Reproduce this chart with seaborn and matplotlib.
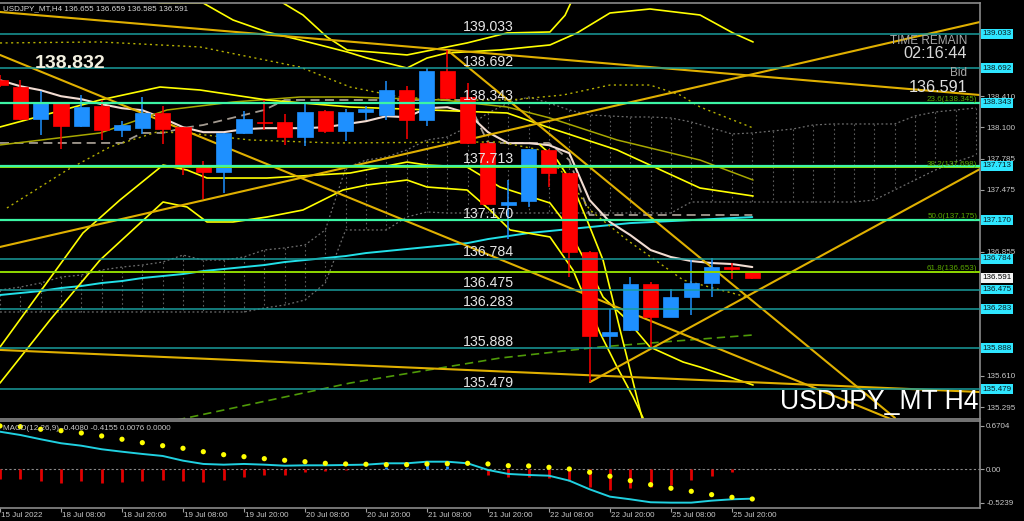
import numpy as np
import pandas as pd
import matplotlib
matplotlib.use("Agg")
import matplotlib.pyplot as plt
import seaborn as sns
from matplotlib.patches import Rectangle

sns.set_theme(style="dark")
plt.rcParams['font.family'] = ['Liberation Sans', 'DejaVu Sans']

# ---------------- data ----------------
opens  = [138.57,138.50,138.18,138.34,138.11,138.31,138.07,138.09,138.24,138.10,137.72,137.65,138.04,138.155,138.15,138.00,
          138.26,138.06,138.25,138.22,138.47,138.17,138.66,138.40,137.94,137.32,137.36,137.87,137.64,136.85,136.01,136.07,
          136.53,136.20,136.40,136.54,136.70,136.655]
highs  = [138.62,138.57,138.46,138.35,138.42,138.37,138.16,138.40,138.31,138.10,137.76,138.04,138.26,138.37,138.23,138.34,
          138.27,138.28,138.31,138.56,138.51,138.69,138.87,138.54,137.95,137.57,137.88,137.88,137.64,136.86,136.28,136.60,
          136.55,136.48,136.77,136.79,136.74,136.659]
lows   = [138.50,138.17,138.02,137.88,138.10,137.97,138.00,138.03,137.93,137.62,137.38,137.44,138.03,138.07,137.92,137.91,
          138.04,137.96,138.17,138.17,137.98,138.11,138.38,137.93,137.33,136.98,137.30,137.50,136.60,135.55,135.89,136.06,
          135.90,136.20,136.22,136.40,136.58,136.585]
closes = [138.52,138.18,138.35,138.11,138.30,138.07,138.12,138.24,138.08,137.72,137.65,138.04,138.18,138.145,138.00,138.25,
          138.06,138.25,138.28,138.47,138.17,138.66,138.39,137.94,137.33,137.35,137.88,137.64,136.85,136.01,136.05,136.53,
          136.20,136.40,136.54,136.70,136.68,136.591]

ma_white = [138.57,138.51,138.47,138.41,138.38,138.33,138.29,138.27,138.19,138.10,138.05,138.05,138.08,138.09,138.09,138.09,
            138.10,138.13,138.16,138.21,138.20,138.29,138.30,138.24,138.05,137.94,137.94,137.92,137.84,137.37,137.15,137.02,
            136.87,136.80,136.76,136.74,136.73,136.70]
ma_cyan = [136.42,136.44,136.46,136.49,136.51,136.54,136.56,136.59,136.61,136.63,136.66,136.68,136.70,136.72,136.75,136.77,
           136.79,136.81,136.84,136.86,136.88,136.90,136.92,136.94,136.98,137.01,137.04,137.06,137.08,137.10,137.12,137.14,
           137.15,137.16,137.17,137.18,137.19,137.20]
kijun = [137.942]*7 + [138.042,138.042,138.092,138.122,138.172,138.222,138.272] + [138.372]*10 + [137.942]*4 + [137.771] + [137.221]*9

span_a = [136.470,136.500,136.540,136.600,136.620,136.670,136.700,136.720,136.750,136.820,136.770,136.770,136.801,136.871,
          136.891,136.921,137.071,137.691,137.771,137.801,137.872,137.972,138.002,138.102,138.242,138.342,138.402,138.342,
          138.272,138.222,138.212,138.202,138.202,138.192,138.152,138.092,138.032,138.042,138.062,138.082,138.122,138.132,
          138.132,138.132,138.132,138.212,138.252,138.272,138.292]
span_b = [136.250]*13 + [136.290,136.320,136.370,136.540,137.071,137.071,137.071,137.201,137.251] + [137.241]*12 + \
         [137.351]*9 + [137.371,137.471,137.571,137.671,137.751,137.821]

# bands / curves read as (bar, price) points
band_up1 = [(6.39,139.42),(7.87,139.343),(9.99,139.343),(11.46,139.173),(13.13,139.053),(14.76,138.973),(17.07,138.853),
            (18.05,138.792),(20.02,138.692),(21.00,138.792),(21.99,138.843),(24.59,138.873),(27.05,138.923),(28.38,139.043),
            (30.00,139.243),(31.97,139.283),(34.43,139.223),(36.05,139.043),(37.04,138.953)]
band_up2 = [(13.92,139.343),(14.90,139.223),(16.08,139.003),(17.07,138.873),(20.02,138.823),(22.97,138.943),(24.94,139.043),
            (27.05,139.053),(27.79,139.22),(28.14,139.373)]
band_mid = [(0,138.102),(4.92,138.372),(7.87,138.502),(9.84,138.472),(13.13,138.372),(17.22,138.302),(21.15,138.272),
            (24.94,138.242),(27.05,138.092),(30.35,137.872),(34.43,137.491),(37.04,137.411)]
band_olive = [(0,137.922),(4.92,138.042),(8.21,138.272),(11.46,138.352),(14.76,138.402),(17.22,138.402),(21.79,138.372),
              (24.94,138.302),(27.05,138.192),(30.35,137.972),(34.43,137.771),(37.04,137.571)]
band_lo1 = [(0,135.899),(4.08,137.041),(5.90,137.371),(8.02,137.721),(9.20,137.671),(10.18,137.591),(13.13,137.591),
            (17.22,137.641),(20.02,137.751),(21.00,137.721),(22.97,137.701),(24.59,137.501),(27.05,137.341),(27.69,137.171),
            (28.68,136.801),(29.66,136.400),(30.84,136.170),(31.97,135.899),(33.60,135.749),(34.43,135.699),(37.04,135.519)]
band_lo2 = [(0,135.539),(2.46,136.170),(4.92,136.770),(8.02,137.351),(9.20,137.301),(10.18,137.151),(11.46,137.151),
            (13.13,137.201),(14.90,137.271),(16.87,137.471),(18.05,137.521),(20.02,137.571),(21.00,137.501),(22.97,137.471),
            (24.10,137.271),(25.09,137.071),(27.05,137.001),(28.18,136.670),(29.51,136.040),(30.35,135.699),(31.14,135.399),
            (31.63,135.189)]
band_lo3 = [(26.56,137.922),(27.40,137.771),(28.04,137.571),(28.87,137.171),(29.66,136.770),(30.50,136.070),(31.48,135.269),
            (31.58,135.189)]
dotted_up = [(0,138.943),(4.92,138.953),(9.84,138.903),(14.76,138.702),(17.22,138.502),(19.68,138.402),(22.13,138.372),
             (25.09,138.372),(27.69,138.422),(30.00,138.522),(31.97,138.522),(33.45,138.422),(34.43,138.302),(37.04,138.092)]
dotted_lo = [(0.34,137.291),(3.30,137.671),(5.41,137.902),(7.72,138.052),(9.20,138.042),(12.30,137.972),(16.38,137.942),
             (24.59,137.952),(26.56,137.872),(27.89,137.601),(29.02,137.271),(30.84,136.971),(33.60,136.570),(36.74,136.400)]
green_dash = [(8.71,135.169),(17.22,135.539),(24.59,135.789),(29.51,135.900),(37.04,136.020)]

trendlines = {
    "t1": [(0,139.253),(48.2,138.422)],
    "t2": [(0,136.901),(48.2,139.153)],
    "t3": [(0,138.823),(43.92,135.169)],
    "t4": [(0,135.870),(48.2,135.449)],
    "t5": [(29.02,135.549),(48.2,137.681)],
    "t6": [(21.99,138.873),(44.02,135.189)],
}

levels_teal = [139.033, 138.692, 136.784, 136.475, 136.283, 135.888, 135.479]
levels_green = [138.343, 137.713, 137.170]
level_labels = ["139.033","138.692","138.343","137.713","137.170","136.784","136.475","136.283","135.888","135.479"]
fib_levels = [138.345, 137.698, 137.175, 136.653]
fib_labels = ["23.6(138.345)","38.2(137.698)","50.0(137.175)","61.8(136.653)"]
price_ticks = [138.410,138.100,137.785,137.475,136.855,135.610,135.295]
bid = 136.591

macd_dots = [0.670,0.659,0.619,0.597,0.561,0.515,0.464,0.411,0.364,0.324,0.271,0.225,0.194,0.163,0.138,0.116,0.091,0.081,
             0.076,0.070,0.070,0.081,0.085,0.091,0.081,0.054,0.050,0.029,0.003,-0.048,-0.110,-0.178,-0.240,-0.296,-0.343,
             -0.395,-0.436,-0.462]
macd_line = [0.581,0.530,0.464,0.402,0.364,0.309,0.271,0.236,0.205,0.132,0.081,0.070,0.081,0.070,0.054,0.060,0.060,0.065,
             0.070,0.091,0.091,0.116,0.116,0.091,-0.012,-0.074,-0.090,-0.101,-0.178,-0.312,-0.426,-0.467,-0.513,-0.519,
             -0.519,-0.488,-0.467,-0.457]
macd_hist = [-0.150,-0.155,-0.181,-0.207,-0.191,-0.217,-0.196,-0.181,-0.165,-0.181,-0.196,-0.165,-0.129,-0.093,-0.083,-0.041,
             -0.036,-0.010,0.010,0.030,0.020,0.060,0.050,0.0,-0.093,-0.129,-0.129,-0.140,-0.181,-0.284,-0.326,-0.295,-0.269,
             -0.243,-0.171,-0.103,-0.041,0.005]

tick_bars = [0,3,6,9,12,15,18,21,24,27,30,33,36]
tick_labels = ["15 Jul 2022","18 Jul 08:00","18 Jul 20:00","19 Jul 08:00","19 Jul 20:00","20 Jul 08:00","20 Jul 20:00",
               "21 Jul 08:00","21 Jul 20:00","22 Jul 08:00","22 Jul 20:00","25 Jul 08:00","25 Jul 20:00"]

bars = np.arange(len(opens))
cloud_bars = np.arange(len(span_a))

# ---------------- figure ----------------
W, H = 1024, 521
fig = plt.figure(figsize=(W/100, H/100), dpi=100, facecolor="black")
ax = fig.add_axes([0, 1-419/H, 980/W, (419-3)/H])
mx = fig.add_axes([0, 1-508/H, 980/W, (508-421)/H])
for a in (ax, mx):
    a.set_facecolor("black")
    a.grid(False)
    for s in a.spines.values():
        s.set_color("#8a8a8a"); s.set_linewidth(1.2)
    a.spines["left"].set_visible(False)
ax.set_xlim(0, 48.2); ax.set_ylim(139.343 - (416)*0.01001, 139.343)
mx.set_xlim(0, 48.2); mx.set_ylim(-0.602, 0.747)

def draw(a, pts, **kw):
    df = pd.DataFrame(pts, columns=["x", "y"])
    sns.lineplot(data=df, x="x", y="y", ax=a, sort=False, estimator=None, legend=False, **kw)

# cloud
draw(ax, list(zip(cloud_bars, span_a)), color="#6e6e6e", lw=0.9, linestyle=(0, (1.5, 2)))
draw(ax, list(zip(cloud_bars, span_b)), color="#6e6e6e", lw=0.9, linestyle=(0, (1.5, 2)))
ax.vlines(cloud_bars, span_a, span_b, colors="#5c5c5c", lw=0.8, linestyles=(0, (1.5, 2.5)))

# candles
bull, bear = "#1e90ff", "#ff0000"
for i in bars:
    o, h, l, c = opens[i], highs[i], lows[i], closes[i]
    col = bull if c >= o else bear
    ax.vlines(i, l, h, colors=col, lw=1.1, zorder=3)
    ax.add_patch(Rectangle((i-0.37, min(o, c)), 0.74, max(abs(c-o), 0.007),
                           facecolor=col, edgecolor=col, lw=0.5, zorder=4))

# moving averages / bands
draw(ax, list(zip(bars, kijun)), color="#a39a90", lw=1.3, linestyle=(0, (5, 3)))
draw(ax, list(zip(bars, ma_cyan)), color="#22e0e8", lw=1.4)
draw(ax, list(zip(bars, ma_white)), color="#f2dcd2", lw=1.5)
draw(ax, dotted_up, color="#b5b000", lw=1.0, linestyle=(0, (1.5, 2.5)))
draw(ax, dotted_lo, color="#b5b000", lw=1.0, linestyle=(0, (1.5, 2.5)))
draw(ax, green_dash, color="#4f9a08", lw=1.2, linestyle=(0, (5, 3)))
draw(ax, band_olive, color="#a8a800", lw=1.1)
for pts in (band_up1, band_up2, band_mid, band_lo1, band_lo2, band_lo3):
    draw(ax, pts, color="#ffff00", lw=1.2)

# horizontal levels
for lv in levels_teal:
    ax.axhline(lv, color="#1a9c9c", lw=1.1, zorder=5)
for lv in fib_levels:
    ax.axhline(lv, color="#8fd800", lw=1.4, zorder=5)
for lv in levels_green:
    ax.axhline(lv, color="#3cf5a5", lw=1.6, zorder=5)

# trend lines
for pts in trendlines.values():
    draw(ax, pts, color="#e0b000", lw=1.5)

# level labels in the middle
for txt in level_labels:
    ax.annotate(txt, xy=(22.77, float(txt)), xytext=(0, 1.8), textcoords="offset points",
                va="baseline", ha="left", fontsize=10.2, color="#e6e6e6", zorder=8)
for lv, txt in zip(fib_levels, fib_labels):
    ax.annotate(txt, xy=(1.0, lv), xycoords=("axes fraction", "data"), xytext=(-2, 1.2),
                textcoords="offset points", va="baseline", ha="right", fontsize=5.8, color="#5aa800", zorder=8)

# right price axis
ax.yaxis.tick_right()
ax.set_yticks(price_ticks)
ax.set_yticklabels([f"{p:.3f}" for p in price_ticks])
ax.tick_params(axis="y", right=True, left=False, labelright=True, labelleft=False, length=3, width=0.8,
               color="#a0a0a0", labelsize=5.8, labelcolor="#c8c8c8", pad=1.5)
ax.set_xticks([])
ax.set_xlabel(""); ax.set_ylabel("")
for lv in levels_teal + levels_green:
    ax.text(1.0025, lv, f"{lv:.3f}", transform=ax.get_yaxis_transform(), va="center", ha="left",
            fontsize=5.8, color="#0a1a20", clip_on=False, zorder=9,
            bbox=dict(boxstyle="square,pad=0.18", fc="#2ee6ff", ec="none"))
ax.text(1.0025, bid, f"{bid:.3f}", transform=ax.get_yaxis_transform(), va="center", ha="left",
        fontsize=5.8, color="#000000", clip_on=False, zorder=9,
        bbox=dict(boxstyle="square,pad=0.18", fc="#f4f4f4", ec="none"))

# texts
def ftext(x, y, s, **kw):
    fig.text(x/W, 1-y/H, s, **kw)
ftext(3, 9, "USDJPY_MT,H4 136.655 136.659 136.585 136.591", fontsize=5.8, color="#d8d8d8", va="center", ha="left")
ftext(35, 63, "138.832", fontsize=14, fontweight="bold", color="#f3f0e0", va="center", ha="left")
ftext(967, 41, "TIME REMAIN", fontsize=8.5, color="#a8a8a8", va="center", ha="right")
ftext(967, 54, "02:16:44", fontsize=11.7, color="#d8d8d8", va="center", ha="right")
ftext(967, 73, "Bid", fontsize=8.5, color="#a8a8a8", va="center", ha="right")
ftext(967, 87, "136.591", fontsize=11.7, color="#e0e0e0", va="center", ha="right")
ftext(978, 402, "USDJPY_MT H4", fontsize=19.2, color="#ffffff", va="center", ha="right")

# ---------------- MACD panel ----------------
mx.axhline(0, color="#8a8a8a", lw=0.8, linestyle=(0, (2, 2)))
hist_colors = ["#1e90ff" if v > 0 else "#e00000" for v in macd_hist]
mx.vlines(bars, 0, macd_hist, colors=hist_colors, lw=2.0)
draw(mx, list(zip(bars, macd_line)), color="#20d0e0", lw=1.4)
sns.scatterplot(x=bars, y=macd_dots, ax=mx, color="#ffff00", s=14, edgecolor="none", zorder=5, legend=False)
mx.yaxis.tick_right()
mx.set_yticks([0.6704, 0.0, -0.5239])
mx.set_yticklabels(["0.6704", "0.00", "-0.5239"])
mx.tick_params(axis="y", right=True, left=False, labelright=True, labelleft=False, length=3, width=0.8,
               color="#a0a0a0", labelsize=5.8, labelcolor="#c8c8c8", pad=1.5)
mx.set_xticks(tick_bars)
mx.set_xticklabels([])
mx.tick_params(axis="x", bottom=True, length=3, width=0.8, color="#a0a0a0")
mx.set_xlabel(""); mx.set_ylabel("")
for b, lab in zip(tick_bars, tick_labels):
    mx.annotate(lab, xy=(b, 0), xycoords=("data", "axes fraction"), xytext=(1 if b else 0.5, -5.2),
                textcoords="offset points", ha="left", va="center", fontsize=5.8, color="#c8c8c8",
                annotation_clip=False)
ftext(3, 428, "MACD(12,26,9) -0.4080 -0.4155 0.0076 0.0000", fontsize=5.8, color="#c8c8c8", va="center", ha="left")

fig.savefig("out.png", dpi=100, facecolor="black")
